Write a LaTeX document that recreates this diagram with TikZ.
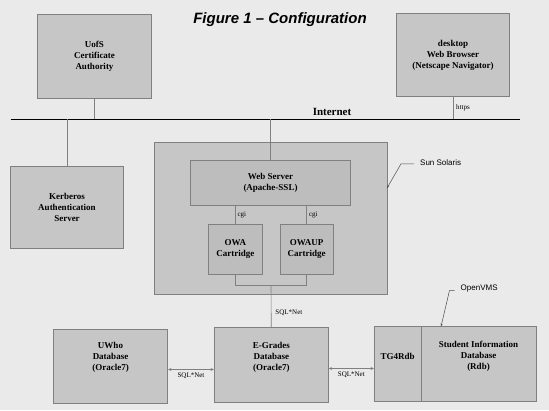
\documentclass[tikz,border=0pt]{standalone}
\usepackage{fontspec}
\setmainfont{Liberation Serif}
\setsansfont{Liberation Sans}
\usepackage{tikz}
\usetikzlibrary{calc, positioning, arrows.meta}
\usepackage{xcolor}
\definecolor{fond}{RGB}{234, 234, 234}
\definecolor{boite}{RGB}{198, 198, 198}
\definecolor{boitefonce}{RGB}{189, 189, 189}
\definecolor{bord}{RGB}{128, 128, 128}

\begin{document}
\begin{tikzpicture}[
    x=1pt, y=-1pt,
    box/.style={draw=bord, fill=boite, line width=0.6pt, inner sep=0pt,
                align=center, font=\fontsize{9}{11}\selectfont\bfseries},
    boxtext/.style={align=center, font=\fontsize{9}{11}\selectfont\bfseries},
    wire/.style={draw=bord, line width=0.6pt},
    sqlarrow/.style={wire, {Stealth[length=3.5pt, width=3pt]}-{Stealth[length=3.5pt, width=3pt]}},
    leader/.style={draw=black!70, line width=0.5pt, -{Stealth[length=3pt, width=2pt]}},
    small/.style={font=\fontsize{7}{8}\selectfont, inner sep=1pt},
    osname/.style={font=\sffamily\fontsize{8}{9}\selectfont, inner sep=1pt}
]

% --- fond et titre ---
\fill[fond] (0,0) rectangle (549,410);
\node[font=\sffamily\bfseries\itshape\fontsize{15}{18}\selectfont] (title)
    at (280,19.5) {Figure 1 -- Configuration};

% ============================================================
%  INTERNET
% ============================================================
\coordinate (netw) at (10.5,119.3);
\coordinate (nete) at (520,119.3);
\draw[line width=1.6pt] (netw) -- (nete);
\node[font=\bfseries\fontsize{11}{13}\selectfont] (net) at (332,111.5) {Internet};

\node[box, minimum width=113.5pt, minimum height=83.6pt] (ca)
    at (94.5,56.5) {UofS\\Certificate\\Authority};
\node[box, minimum width=113pt, minimum height=83.4pt] (browser)
    at (453,55) {desktop\\Web Browser\\(Netscape Navigator)};
\node[box, minimum width=113pt, minimum height=82.3pt] (kerb)
    at (67,207.2) {Kerberos\\Authentication\\Server};

\draw[wire] (ca.south) -- (ca.south |- netw);
\draw[wire] (browser.south) -- (browser.south |- netw);
\node[small, anchor=west] (https) at (455,108) {https};
\draw[wire] (kerb.north) -- (kerb.north |- netw);

% ============================================================
%  SUN SOLARIS
% ============================================================
\node[box, minimum width=232.5pt, minimum height=152pt] (solaris) at (270.6,218.3) {};
\node[box, fill=boitefonce, minimum width=160pt, minimum height=45pt] (websrv)
    at (270.5,182.5) {Web Server\\(Apache-SSL)};
\node[box, fill=boitefonce, minimum width=53.2pt, minimum height=50pt] (owa)
    at (235.3,249.3) {OWA\\Cartridge};
\node[box, fill=boitefonce, minimum width=53.6pt, minimum height=50pt] (owaup)
    at (306.7,249.3) {OWAUP\\Cartridge};

\draw[wire] (websrv.north) -- (websrv.north |- netw);
\draw[wire] (websrv.south -| owa.north) -- (owa.north)
    node[small, midway, anchor=west, xshift=1pt] (cgia) {cgi};
\draw[wire] (websrv.south -| owaup.north) -- (owaup.north)
    node[small, midway, anchor=west, xshift=1pt] (cgib) {cgi};

\coordinate (join) at (271,285.7);
\draw[wire] (owa.south) |- (join) -| (owaup.south);

\node[osname, anchor=west] (sunlbl) at (419,162.3) {Sun Solaris};
\coordinate (suntip) at (386.9,188.3);
\draw[leader] ([yshift=-1.5pt]sunlbl.west) ++(-5,0) -- ++(-13,0) -- (suntip);

% ============================================================
%  BASES DE DONNEES
% ============================================================
\node[box, minimum width=114.4pt, minimum height=74.4pt] (uwho) at (110.5,366) {};
\node[boxtext] at ([yshift=9pt]uwho.center) {UWho\\Database\\(Oracle7)};
\node[box, minimum width=114pt, minimum height=74.6pt] (egrades) at (271.3,365) {};
\node[boxtext] at ([yshift=8pt]egrades.center) {E-Grades\\Database\\(Oracle7)};
\node[box, minimum width=46.7pt, minimum height=74.3pt] (tg4) at (397.7,363.8) {};
\node[boxtext] at ([yshift=7pt]tg4.center) {TG4Rdb};
\node[box, minimum width=115pt, minimum height=74.3pt] (sid) at (478.5,363.8) {};
\node[boxtext] at ([yshift=8pt]sid.center) {Student Information\\Database\\(Rdb)};

\draw[wire] (join) -- (egrades.north)
    node[small, pos=0.65, anchor=west, xshift=3pt] (sqla) {SQL*Net};
\draw[sqlarrow] ([yshift=-3.5pt]uwho.east) -- ([yshift=-3.5pt]uwho.east -| egrades.west)
    node[small, midway, below=2pt] (sqlb) {SQL*Net};
\draw[sqlarrow] ([yshift=-3.5pt]egrades.east) -- ([yshift=-3.5pt]egrades.east -| tg4.west)
    node[small, midway, below=2pt] (sqlc) {SQL*Net};

\node[osname, anchor=west] (vmslbl) at (459.5,289) {OpenVMS};
\coordinate (vmstip) at (441,326.5);
\draw[leader] ([yshift=-1.5pt]vmslbl.west) ++(-5,0) -- ++(-5,0) -- (vmstip);

\end{tikzpicture}
\end{document}
